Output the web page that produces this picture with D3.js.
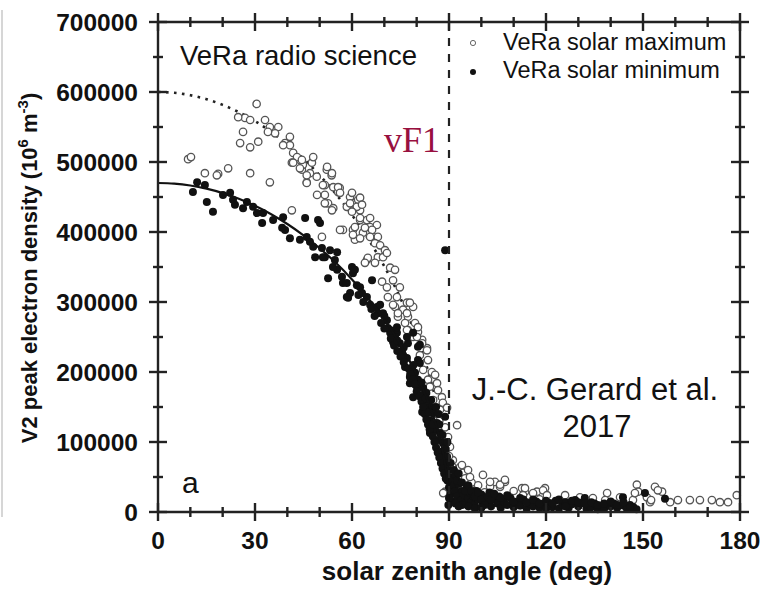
<!DOCTYPE html>
<html><head><meta charset="utf-8">
<script src="https://cdn.jsdelivr.net/npm/d3@7"></script>
<style>body{margin:0;background:#fff}svg{display:block}</style>
</head><body>
<script>
const xTicks=[0,30,60,90,120,150,180];
const xMinor=[10,20,40,50,70,80,100,110,130,140,160,170];
const yTicks=[0,100000,200000,300000,400000,500000,600000,700000];
const yMinor=[50000,150000,250000,350000,450000,550000,650000];
const curveAngles=[0,5,10,15,20,25,30,35,40,45,50,55,60,65,70,75,80,82,84,86,87,88,89,89.5,89.8,90];
const minCurve=[470000,469100,466400,461900,455600,447400,437400,425400,411400,395200,376800,356000,332300,305500,274900,239100,195800,175400,152000,124100,107500,87800,62100,43900,27800,0];
const maxCurve=[600000,598900,595400,589700,581600,571200,558400,543100,525100,504500,481000,454400,424300,390100,350900,305200,250000,223800,194000,158500,137300,112100,79300,56000,35500,0];
const solarMax=[[30.5,583000],[26.9,563000],[24.8,564000],[28.5,560000],[33.1,560000],[26.3,543000],[25.4,527000],[28.5,521000],[31,529000],[34.6,550000],[37.2,550000],[36.2,541000],[39.3,527000],[40.8,536000],[41.8,513000],[41.4,499000],[43.9,503000],[44.5,489000],[47.6,499000],[48,507000],[46,471000],[49.1,479000],[51.6,467000],[52.2,489000],[53.7,481000],[54.2,464000],[55.7,457000],[56.2,463000],[51.6,453000],[52.6,441000],[54.2,434000],[59.4,450000],[60.3,441000],[58.4,436000],[61.9,446000],[62.5,431000],[60.3,403000],[62.5,417000],[64.6,417000],[65.6,407000],[63.4,399000],[66.5,393000],[57.2,403000],[60.9,389000],[64.6,360000],[68,364000],[50.7,393000],[41.4,431000],[34.6,471000],[28.5,484000],[21.7,491000],[18.6,483000],[14.5,484000],[9.3,504000],[10.2,507000],[18.2,481000],
[43,507000],[44.8,496000],[47,484000],[46,470000],[52.3,493000],[53.8,484000],[51,467000],[55.7,464000],[56.3,456000],[49.2,453000],[51.6,441000],[53.8,431000],[60,456000],[62.5,449000],[59.4,441000],[61.5,436000],[63.1,439000],[60,429000],[62.5,420000],[65.6,420000],[67.7,410000],[60.9,407000],[64,406000],[66.2,403000],[60.3,396000],[62.5,391000],[65.6,393000],[68,393000],[67.1,384000],[68.7,381000],[70.2,374000],[69.6,364000],[70.8,370000],[64.9,363000],[64,356000],[67.1,356000],[71.8,349000],[73.3,346000],[69.3,329000],[70.8,321000],[72.7,331000],[74.8,321000],[71.1,307000],[73.9,307000],[77,299000],[78.9,293000],[73.3,293000],[75.8,289000],[74.2,279000],[77.3,279000],[76.4,270000],[79.5,270000],[77.3,260000],[80.4,257000],[78.9,250000],[56.3,403000],[81.7,246000],[83.2,234000],
[40.8,524000],[38.7,524000],[44.5,503000],[41.8,499000],[43.9,491000],[46,481000],[34,543000],
[72.7,296000],[74.2,284000],[77.9,299000],[77,284000],[80.4,264000],[77,260000],[80.1,250000],[81.7,241000],[83.2,231000],[81,224000],[83.5,217000],[82,203000],[84.7,200000],[85.7,196000],[83.5,189000],[86.3,184000],[86.6,174000],[87.8,164000],[85.1,160000],[88.1,156000],[89.4,149000],[87.2,146000],[92.5,124000],[88.8,121000],[89.7,107000],[90.3,93000],[88.8,29000],[91.2,74000],[93.4,64000],[94.3,56000],[84.1,179000],
[86,140000],[87,130000],[88.5,100000],[89,85000],[90,80000],[91,65000],[92,55000],[95,48000],[97,42000],[99,38000],[88.2,27000],
[94,67000],[95.9,60000],[96.5,50000],[100.5,53000],[104.2,43000],[107.3,43000],[105.8,36000],[102.7,36000],[102.7,43000],[105.8,39000],[107.3,46000],[112.6,34000],[113.5,29000],[117.2,29000],[119.7,34000],[113.5,34000],[116,27000],[119.1,31000],[120.3,24000],[112.9,24000],[125.9,24000],[130.5,21000],[134.5,20000],[138.9,27000],[142.9,21000],[148.1,39000],[148.5,29000],[151.2,21000],[153.7,36000],[155.9,29000],[158.4,14000],[160.8,17000],[164.5,17000],[167.6,17000],[171.3,17000],[173.8,14000],[176.3,14000],[179,24000],[152.2,14000],[146.9,17000],[152.5,17000],[147.5,27000],[154.6,31000],[138.3,17000],[110,30000],[118,18000],[128,15000],[101,28000],[98,30000],[97,22000],[89,60000]];
const solarMin=[[12.1,471000],[14.5,467000],[10.8,457000],[15.1,443000],[17,429000],[20.1,453000],[22.3,456000],[23.2,446000],[23.8,439000],[26.3,434000],[27.5,443000],[29.4,436000],[30.6,427000],[32.2,413000],[32.5,427000],[35.6,417000],[38.7,421000],[39.3,403000],[38.4,406000],[40.8,391000],[43.9,389000],[46,393000],[45.5,420000],[49.5,417000],[50.1,413000],[48,379000],[50.7,377000],[51.6,364000],[53.2,374000],[54.7,360000],[55.4,346000],[56.9,336000],[52.6,334000],[57.2,327000],[59.4,313000],[60.3,341000],[62.5,321000],[64.6,307000],[58.4,307000],
[47,386000],[48.6,364000],[51,364000],[55.4,371000],[54.1,350000],[60,350000],[60.9,346000],[58.4,327000],[61.5,324000],[58.8,306000],[63.1,313000],[66.2,331000],[65.6,296000],[67.7,293000],[68,284000],[70.8,274000],[71.1,263000],[72.7,253000],[73.9,256000],[72.7,243000],[74.8,241000],[77.3,241000],[80.4,236000],[88.8,374000],
[68.7,296000],[71.8,260000],[73.3,250000],[75.5,227000],[77,220000],[76.4,207000],[78.6,206000],[79.5,199000],[77.9,193000],[80.4,189000],[80.1,179000],[82,177000],[81.7,167000],[83.2,160000],[81.7,143000],[84.1,150000],[85.1,141000],[84.1,131000],[86.3,127000],[85.7,117000],[87.2,113000],[86.6,103000],[88.1,99000],[88.8,136000],[87.8,86000],[89.4,79000],[88.8,70000],[89.7,60000],[90.3,50000],[90.9,41000],[91.9,31000],[93.4,27000],[94.3,20000],[95.6,17000],[81,239000],[78.9,256000],[77,250000],[69.6,284000],[73.9,264000],[71.8,256000],[80.4,217000],[77.9,184000],[78.9,164000],[82.6,150000],[84.1,113000],[81,213000],
[83,170000],[84.5,160000],[86,150000],[87,125000],[86.8,140000],[88,110000],[89,90000],[89.5,100000],[88.5,80000],[90.5,70000],[89.5,45000],[90,35000],[90.5,25000],[91,15000],[90,20000],[89.8,10000],
[62,310000],[63.5,300000],[66,290000],[67,280000],[69,270000],[70,262000],[72,248000],[73,238000],[74,230000],[75,222000],[76,214000],[77.5,205000],[78,197000],[79,190000],[79.5,182000],[80,172000],[81,165000],[81.5,158000],[82,150000],[82.5,140000],[83,132000],[83.5,125000],[84,118000],[85,108000],[85.5,100000],[86,92000],[86.5,85000],[87,78000],[87.5,70000],[88,62000],[88.5,55000],[89,48000],[85,125000],[83.8,142000],[82.8,162000],[81.5,185000],[79,210000],[76,235000],[74,245000],[70,280000],
[91,45000],[91.5,38000],[92,30000],[92,52000],[92.5,22000],[93,40000],[93.5,16000],[94,30000],[94.5,25000],[95,12000],[95.5,35000],[96,20000],[96.5,28000],[97,15000],[97.5,22000],[98,10000],[98.5,30000],[99,18000],[100,25000],[100.5,12000],[101,20000],[102,15000],[102.5,28000],[103,8000],[104,18000],[105,12000],[105.5,22000],[106,6000],[107,15000],[108,10000],[109,20000],[110,7000],[111,14000],[112,9000],[113,18000],[114,5000],[115,12000],[116,8000],[117,15000],[118,6000],[119,11000],[120,4000],[121,13000],[122,7000],[123,16000],[124,5000],[125,10000],[126,14000],[127,6000],[128,11000],[129,17000],[130,8000],[131,13000],[132,20000],[132.5,5000],[133,10000],[134,7000],[135,12000],[136,4000],[137,9000],[138,5000],[140,8000],[141,12000],[142,6000],[143.8,21000],[144,9000],[145,5000],[146,10000],[147,7000],[148,4000],[150.6,27000],[156.8,19000],
[91.5,60000],[92.5,45000],[93,55000],[94,42000],[95,30000],[96,38000],[97,30000],[98,22000],[99,28000],[100,18000],[101,10000],[102,22000],[103,18000],[104,26000],[106,20000],[108,24000],[110,15000],[112,20000],[114,14000],[116,18000],[118,12000],[120,16000],[122,12000],[124,18000],[126,8000],[128,16000],[130,14000],[132,12000],[134,14000],[136,10000],[138,12000],[140,15000],[142,10000],[144,14000],[146,6000],[94,10000],[96,8000],[98,5000],[100,6000],[92,12000],[93,8000]];

const W=764,H=594;
const svg=d3.select("body").append("svg").attr("width",W).attr("height",H);
const x=d3.scaleLinear().domain([0,180]).range([158,740]);
const y=d3.scaleLinear().domain([0,700000]).range([512,22]);

svg.append("line").attr("x1",2).attr("x2",2).attr("y1",10).attr("y2",517).attr("stroke","#c8c8c8").attr("stroke-width",1.5);

const line=d3.line().x(d=>x(d[0])).y(d=>y(d[1])).curve(d3.curveMonotoneX);
svg.append("path").datum(curveAngles.map((a,i)=>[a,maxCurve[i]])).attr("d",line)
  .attr("fill","none").attr("stroke","#222").attr("stroke-width",2.6).attr("stroke-dasharray","2.6,5.4");

svg.append("g").selectAll("circle").data(solarMax).join("circle")
  .attr("cx",d=>x(d[0])).attr("cy",d=>y(d[1])).attr("r",3.7)
  .attr("fill","#fff").attr("stroke","#555").attr("stroke-width",1.3);
svg.append("g").selectAll("circle").data(solarMin).join("circle")
  .attr("cx",d=>x(d[0])).attr("cy",d=>y(d[1])).attr("r",4).attr("fill","#111");

svg.append("path").datum(curveAngles.map((a,i)=>[a,minCurve[i]])).attr("d",line)
  .attr("fill","none").attr("stroke","#111").attr("stroke-width",2.2);

svg.append("line").attr("x1",x(90)).attr("x2",x(90)).attr("y1",y(700000)).attr("y2",y(0))
  .attr("stroke","#222").attr("stroke-width",2.2).attr("stroke-dasharray","8,8");

const ax=svg.append("g").attr("stroke","#222").attr("stroke-width",2.4);
ax.append("line").attr("x1",x(0)).attr("x2",x(180)).attr("y1",y(0)).attr("y2",y(0));
ax.append("line").attr("x1",x(0)).attr("x2",x(180)).attr("y1",y(700000)).attr("y2",y(700000));
ax.append("line").attr("x1",x(0)).attr("x2",x(0)).attr("y1",y(0)).attr("y2",y(700000));
ax.append("line").attr("x1",x(180)).attr("x2",x(180)).attr("y1",y(0)).attr("y2",y(700000));
const MJ=9, MN=5;
[y(0),y(700000)].forEach(yy=>{
  xTicks.forEach(t=>ax.append("line").attr("x1",x(t)).attr("x2",x(t)).attr("y1",yy-MJ).attr("y2",yy+MJ));
  xMinor.forEach(t=>ax.append("line").attr("x1",x(t)).attr("x2",x(t)).attr("y1",yy-MN).attr("y2",yy+MN));
});
[x(0),x(180)].forEach(xx=>{
  yTicks.forEach(t=>ax.append("line").attr("y1",y(t)).attr("y2",y(t)).attr("x1",xx-MJ).attr("x2",xx+MJ));
  yMinor.forEach(t=>ax.append("line").attr("y1",y(t)).attr("y2",y(t)).attr("x1",xx-MN).attr("x2",xx+MN));
});

const F="Liberation Sans, Arial, sans-serif";
svg.append("g").selectAll("text").data(xTicks).join("text")
  .attr("x",d=>x(d)).attr("y",549).attr("text-anchor","middle")
  .attr("font-family",F).attr("font-weight","bold").attr("font-size",24.5).attr("fill","#111").text(d=>d);
svg.append("g").selectAll("text").data(yTicks).join("text")
  .attr("x",138).attr("y",d=>y(d)+8.5).attr("text-anchor","end")
  .attr("font-family",F).attr("font-weight","bold").attr("font-size",24.5).attr("fill","#111").text(d=>d);

svg.append("text").attr("x",467).attr("y",580).attr("text-anchor","middle")
  .attr("font-family",F).attr("font-weight","bold").attr("font-size",26).attr("fill","#111")
  .text("solar zenith angle (deg)");
const yt=svg.append("text").attr("transform","translate(37,268) rotate(-90)").attr("text-anchor","middle")
  .attr("font-family",F).attr("font-weight","bold").attr("font-size",22).attr("fill","#111");
yt.append("tspan").text("V2 peak electron density (10");
yt.append("tspan").attr("dy",-9).attr("font-size",15).text("6");
yt.append("tspan").attr("dy",9).text(" m");
yt.append("tspan").attr("dy",-9).attr("font-size",15).text("-3");
yt.append("tspan").attr("dy",9).text(")");

svg.append("text").attr("x",180).attr("y",65).attr("font-family",F).attr("font-size",27.5).attr("fill","#111").text("VeRa radio science");
svg.append("text").attr("x",182).attr("y",493).attr("font-family",F).attr("font-size",30).attr("fill","#111").text("a");
svg.append("text").attr("x",384).attr("y",152).attr("font-family","Liberation Serif, Times New Roman, serif").attr("font-size",36).attr("fill","#98103f").text("vF1");
svg.append("text").attr("x",595).attr("y",400).attr("text-anchor","middle").attr("font-family",F).attr("font-size",31).attr("fill","#111").text("J.-C. Gerard et al.");
svg.append("text").attr("x",597).attr("y",437).attr("text-anchor","middle").attr("font-family",F).attr("font-size",31).attr("fill","#111").text("2017");

const legendLabels=["VeRa solar maximum","VeRa solar minimum"];
svg.append("circle").attr("cx",473).attr("cy",43).attr("r",2.6).attr("fill","#fff").attr("stroke","#666").attr("stroke-width",1);
svg.append("circle").attr("cx",473).attr("cy",72).attr("r",3).attr("fill","#111");
svg.append("text").attr("x",503).attr("y",50).attr("font-family",F).attr("font-size",23.5).attr("fill","#111").text(legendLabels[0]);
svg.append("text").attr("x",503).attr("y",78).attr("font-family",F).attr("font-size",23.5).attr("fill","#111").text(legendLabels[1]);
</script>
</body></html>
